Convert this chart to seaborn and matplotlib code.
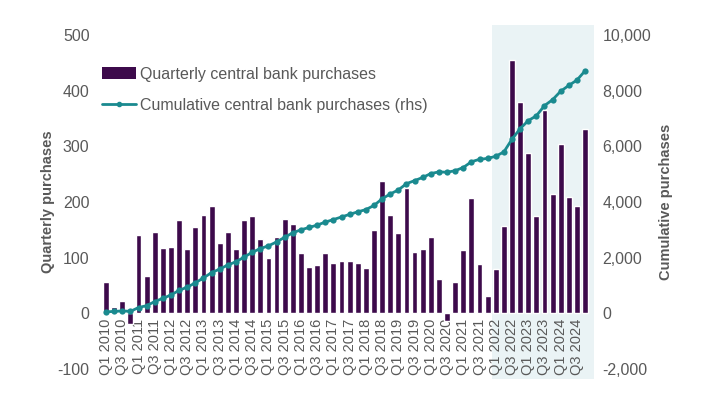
import numpy as np
import pandas as pd
import matplotlib
matplotlib.use("Agg")
import matplotlib.pyplot as plt
import matplotlib.transforms as mtransforms
from matplotlib.patches import Rectangle
from matplotlib.lines import Line2D
from matplotlib.ticker import FuncFormatter
import seaborn as sns

years = list(range(2010, 2025))
quarters = [f"Q{q} {y}" for y in years for q in range(1, 5)]

quarterly = [
    56, 11, 22, -20,
    140, 67, 146, 117,
    120, 167, 115, 155,
    176, 192, 126, 147,
    115, 167, 174, 133,
    100, 138, 169, 160,
    108, 83, 86, 108,
    90, 94, 94, 90,
    81, 149, 237, 176,
    144, 225, 110, 115,
    138, 62, -14, 57,
    113, 207, 88, 31,
    79, 156, 455, 380,
    288, 174, 365, 214,
    304, 209, 192, 331,
]

shade_start = "Q1 2022"

bar_color = "#3D0A4B"
line_color = "#1A8A8F"
text_color = "#595959"
shade_color = "#EAF3F5"

sns.set_theme(style="white")
plt.rcParams["font.family"] = ["Liberation Sans", "DejaVu Sans"]
plt.rcParams["axes.unicode_minus"] = False

df = pd.DataFrame({"quarter": quarters, "quarterly": quarterly})
df["idx"] = np.arange(len(df))
df["cumulative"] = df["quarterly"].cumsum()

fig = plt.figure(figsize=(7.21, 3.95), dpi=100)
ax = fig.add_axes([102 / 721, 26 / 395, (594 - 102) / 721, (369 - 35) / 395])

x_right = len(quarters) - 0.5 + 0.6
i0 = quarters.index(shade_start) - 0.5
trans = mtransforms.blended_transform_factory(ax.transData, ax.transAxes)
ax.add_patch(Rectangle((i0, -0.03), x_right - i0, 1.06, transform=trans,
                       facecolor=shade_color, edgecolor="none", clip_on=False, zorder=0))

sns.barplot(data=df, x="quarter", y="quarterly", color=bar_color, saturation=1,
            width=0.72, ax=ax, zorder=2)
ax.set_xlim(-0.5, x_right)
ax.set_ylim(-100, 500)
ax.set_yticks(range(-100, 501, 100))
ax.spines["bottom"].set_position(("data", 0))

ax2 = ax.twinx()
sns.lineplot(data=df, x="idx", y="cumulative", color=line_color, marker="o",
             markersize=4.5, markeredgewidth=0, linewidth=2, ax=ax2, zorder=3)
ax2.set_ylim(-2000, 10000)
ax2.set_yticks(range(-2000, 10001, 2000))
ax2.yaxis.set_major_formatter(FuncFormatter(lambda v, p: f"{int(v):,}"))
ax2.set_xlim(ax.get_xlim())
ax2.set_xticks([])

ax.set_xticks(range(0, len(quarters), 2))
ax.set_xticklabels(quarters[::2], rotation=90, fontsize=10.5, color=text_color)
ax.tick_params(axis="x", length=0, pad=4)
ax.tick_params(axis="y", length=0, pad=9, labelsize=11.5, labelcolor=text_color)
ax2.tick_params(axis="y", length=0, pad=6, labelsize=11.5, labelcolor=text_color)

ax.set_xlabel("")
ax.set_ylabel("Quarterly purchases", fontsize=10.5, fontweight="bold", color=text_color, labelpad=2)
ax2.set_xlabel("")
ax2.set_ylabel("Cumulative purchases", fontsize=10.5, fontweight="bold", color=text_color, labelpad=6)

for a in (ax, ax2):
    for s in a.spines.values():
        s.set_visible(False)
    a.grid(False)
    a.patch.set_visible(False)

handles = [Rectangle((0, 0), 1, 1, facecolor=bar_color, edgecolor="none"),
           Line2D([0], [0], color=line_color, marker="o", markersize=3, linewidth=2)]
labels = ["Quarterly central bank purchases", "Cumulative central bank purchases (rhs)"]
leg = ax2.legend(handles, labels, loc="upper left", bbox_to_anchor=(0.0, 0.905),
                 frameon=False, fontsize=11.5, handlelength=2.1, handleheight=0.8,
                 handletextpad=0.3, labelspacing=1.0, borderaxespad=0, borderpad=0)
for t in leg.get_texts():
    t.set_color(text_color)

fig.savefig("out.png", dpi=100, facecolor="white")
